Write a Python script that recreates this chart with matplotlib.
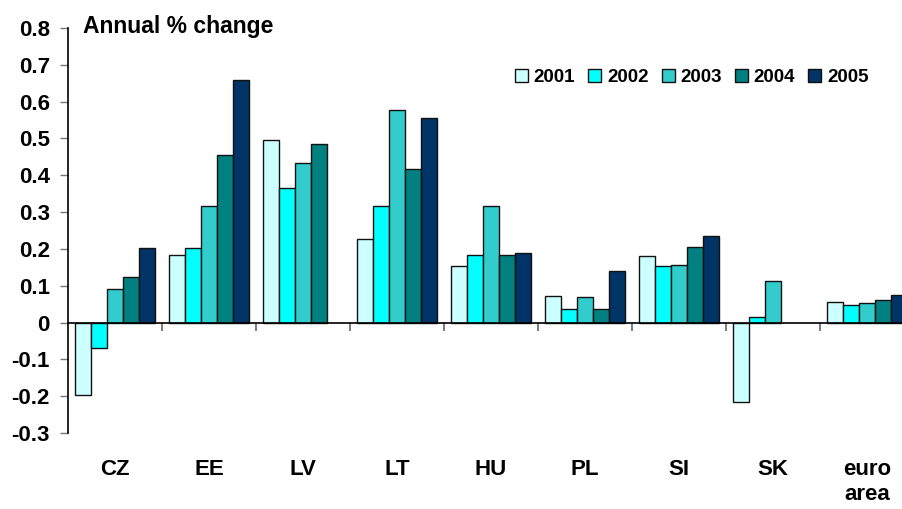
import numpy as np
import matplotlib
matplotlib.use("Agg")
import matplotlib.pyplot as plt

plt.rcParams["font.family"] = ["Liberation Sans", "DejaVu Sans"]
plt.rcParams["font.weight"] = "bold"

countries = ["CZ", "EE", "LV", "LT", "HU", "PL", "SI", "SK", "euro\narea"]
years = ["2001", "2002", "2003", "2004", "2005"]
yticks = [-0.3, -0.2, -0.1, 0, 0.1, 0.2, 0.3, 0.4, 0.5, 0.6, 0.7, 0.8]
ytick_labels = ["-0.3", "-0.2", "-0.1", "0", "0.1", "0.2", "0.3", "0.4",
                "0.5", "0.6", "0.7", "0.8"]

# annual % change, NaN where no figure is published
v2001 = [-0.197, 0.183, 0.496, 0.226, 0.153, 0.073, 0.180, -0.217, 0.057]
v2002 = [-0.068, 0.203, 0.366, 0.316, 0.183, 0.036, 0.153, 0.016, 0.047]
v2003 = [0.092, 0.317, 0.432, 0.578, 0.316, 0.070, 0.157, 0.113, 0.054]
v2004 = [0.124, 0.456, 0.486, 0.417, 0.183, 0.036, 0.204, np.nan, 0.060]
v2005 = [0.203, 0.659, np.nan, 0.556, 0.190, 0.140, 0.234, np.nan, 0.074]

colors = ["#CCFFFF", "#00FFFF", "#33CCCC", "#008080", "#003366"]
series = [v2001, v2002, v2003, v2004, v2005]

fig = plt.figure(figsize=(9.03, 5.09), dpi=100)
# axes runs a little past the right edge, so the last group gets cut off
ax = fig.add_axes([68 / 903, 76 / 509, 846 / 903, 405 / 509])

x = np.arange(len(countries))
w = 0.172
for i, (vals, c, yr) in enumerate(zip(series, colors, years)):
    ax.bar(x + (i - 2) * w, vals, width=w, color=c, edgecolor="#111111",
           linewidth=1.0, label=yr)

ax.set_xlim(-0.5, len(countries) - 0.5)
ax.set_ylim(-0.3, 0.8)
ax.set_yticks(yticks, ytick_labels)
ax.tick_params(axis="y", direction="out", length=6, width=1, color="#777777",
               labelsize=16, pad=7)

# zero line with separators between country groups
ax.spines["bottom"].set_position(("data", 0))
ax.spines["top"].set_visible(False)
ax.spines["right"].set_visible(False)
ax.spines["left"].set_linewidth(1.2)
ax.spines["bottom"].set_linewidth(1.2)
ax.set_xticks(x[:-1] + 0.5)
ax.set_xticklabels([])
ax.tick_params(axis="x", direction="out", length=6, width=1.2, color="#666666")

# country names sit under the plot, not on the zero line
sec = ax.secondary_xaxis("bottom")
sec.set_xticks(x, countries)
sec.tick_params(length=0, pad=19, labelsize=16)
sec.spines["bottom"].set_visible(False)

fig.text(83 / 903, 1 - 27 / 509, "Annual % change", fontsize=16.5,
         fontweight="bold", ha="left", va="center")

ax.legend(loc="center", bbox_to_anchor=(0.766, 0.847), bbox_transform=fig.transFigure,
          ncol=5, frameon=False, fontsize=13.5, handlelength=0.7, handleheight=0.7,
          handletextpad=0.3, columnspacing=0.7)

fig.savefig("out.png", dpi=100)
